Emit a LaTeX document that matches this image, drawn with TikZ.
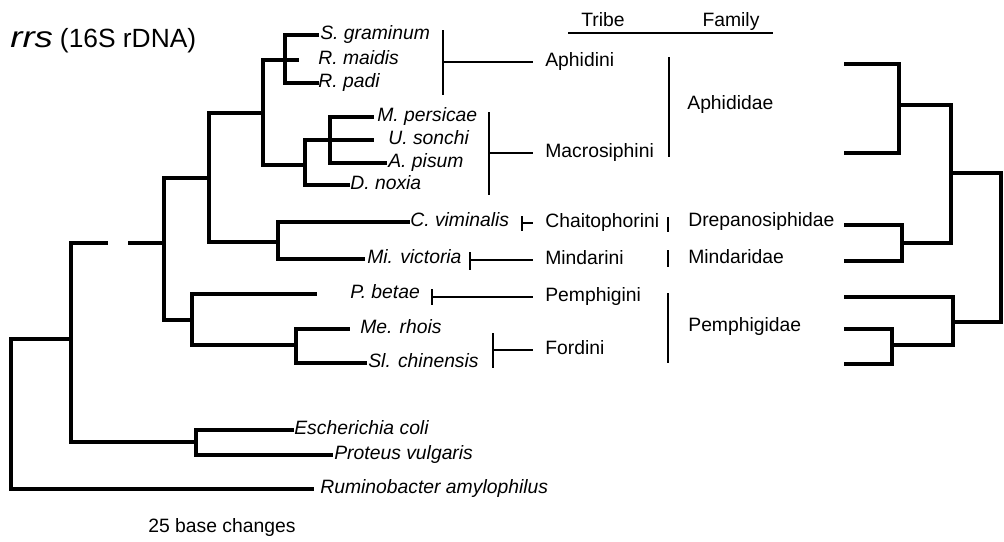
\documentclass[tikz,border=0pt]{standalone}
\usepackage{fontspec}
\setmainfont{Liberation Sans}
\usetikzlibrary{positioning}

\begin{document}
\begin{tikzpicture}[
    x=0.02cm, y=-0.02cm,
    tree/.style={line width=2.1pt, line cap=rect},
    bar/.style={line width=1.2pt},
    taxon/.style={anchor=mid west, inner sep=0pt, font=\fontsize{11}{13}\selectfont\itshape},
    tribe/.style={anchor=mid west, inner ysep=0pt, inner xsep=0.24cm, font=\fontsize{11}{13}\selectfont},
    family/.style={anchor=mid west, inner sep=0pt, font=\fontsize{11}{13}\selectfont}
  ]
    \useasboundingbox (0,0) rectangle (1004,541);

    \node[anchor=base west, inner sep=0pt] (title) at (10,47)
      {{\fontsize{16}{16}\selectfont\itshape\scalebox{1.3}[1.05]{rrs}}\hspace{4pt}\fontsize{15}{15}\selectfont (16S rDNA)};

    % taxa
    \node[taxon] (sgram) at (320,35)  {S. graminum};
    \node[taxon] (rmaid) at (318,60)  {R. maidis};
    \node[taxon] (rpadi) at (318,83)  {R. padi};
    \node[taxon] (mpers) at (377,117) {M. persicae};
    \node[taxon] (usonc) at (388,140) {U. sonchi};
    \node[taxon] (apisu) at (388,163) {A. pisum};
    \node[taxon] (dnoxi) at (350,185) {D. noxia};
    \node[taxon] (cvimi) at (410,222) {C. viminalis};
    \node[taxon] (mvict) at (367,259) {Mi. victoria};
    \node[taxon] (pbeta) at (350,294) {P. betae};
    \node[taxon] (mrhoi) at (360,329) {Me. rhois};
    \node[taxon] (schin) at (368,363) {Sl. chinensis};
    \node[taxon] (ecoli) at (294,430) {Escherichia coli};
    \node[taxon] (pvulg) at (334,455) {Proteus vulgaris};
    \node[taxon] (ramyl) at (320,489) {Ruminobacter amylophilus};

    \node[family, anchor=mid west] (scale) at (148,528) {25 base changes};

    % branch tips
    \coordinate (t-sgram) at (317,35);
    \coordinate (t-rmaid) at (297,60);
    \coordinate (t-rpadi) at (317,83);
    \coordinate (t-mpers) at (372,117);
    \coordinate (t-usonc) at (372,140);
    \coordinate (t-apisu) at (385,163);
    \coordinate (t-dnoxi) at (348,185);
    \coordinate (t-cvimi) at (408,222);
    \coordinate (t-mvict) at (363,259);
    \coordinate (t-pbeta) at (315,294);
    \coordinate (t-mrhoi) at (348,329);
    \coordinate (t-schin) at (365,363);
    \coordinate (t-ecoli) at (292,430);
    \coordinate (t-pvulg) at (331,455);
    \coordinate (t-ramyl) at (312,489);

    % inner nodes
    \coordinate (n-rhop)   at (285,60);
    \coordinate (n-macro)  at (330,140);
    \coordinate (n-macro2) at (305,165);
    \coordinate (n-aphid)  at (263,113);
    \coordinate (n-drep)   at (278,242);
    \coordinate (n-upper)  at (209,178);
    \coordinate (n-ford)   at (296,345);
    \coordinate (n-pemph)  at (192,320);
    \coordinate (n-aphids) at (164,243);
    \coordinate (n-bact)   at (196,442);
    \coordinate (n-ingrp)  at (71,339);
    \coordinate (n-root)   at (11,414);
    \coordinate (g-left)   at (106,243);
    \coordinate (g-right)  at (130,243);

    \draw[tree] (n-rhop) |- (t-sgram);
    \draw[tree] (n-rhop) -- (t-rmaid);
    \draw[tree] (n-rhop) |- (t-rpadi);
    \draw[tree] (n-macro) |- (t-mpers);
    \draw[tree] (n-macro) -- (t-usonc);
    \draw[tree] (n-macro) |- (t-apisu);
    \draw[tree] (n-macro2) |- (n-macro);
    \draw[tree] (n-macro2) |- (t-dnoxi);
    \draw[tree] (n-aphid) |- (n-rhop);
    \draw[tree] (n-aphid) |- (n-macro2);
    \draw[tree] (n-drep) |- (t-cvimi);
    \draw[tree] (n-drep) |- (t-mvict);
    \draw[tree] (n-upper) |- (n-aphid);
    \draw[tree] (n-upper) |- (n-drep);
    \draw[tree] (n-ford) |- (t-mrhoi);
    \draw[tree] (n-ford) |- (t-schin);
    \draw[tree] (n-pemph) |- (t-pbeta);
    \draw[tree] (n-pemph) |- (n-ford);
    \draw[tree] (n-aphids) |- (n-upper);
    \draw[tree] (n-aphids) |- (n-pemph);
    \draw[tree] (g-right) -- (n-aphids);
    \draw[tree] (n-bact) |- (t-ecoli);
    \draw[tree] (n-bact) |- (t-pvulg);
    \draw[tree] (n-ingrp) |- (g-left);
    \draw[tree] (n-ingrp) |- (n-bact);
    \draw[tree] (n-root) |- (n-ingrp);
    \draw[tree] (n-root) |- (t-ramyl);

    % header
    \node[family, anchor=base] (h-tribe)  at (603,27) {Tribe};
    \node[family, anchor=base] (h-family) at (731,27) {Family};
    \coordinate (h-l) at (568,33);
    \coordinate (h-r) at (773,33);
    \draw[bar] (h-l) -- (h-r);

    % tribes
    \node[tribe] (aphidini) at (533,62)  {Aphidini};
    \node[tribe] (macro)    at (533,153) {Macrosiphini};
    \node[tribe] (chaito)   at (533,223) {Chaitophorini};
    \node[tribe] (mindar)   at (533,260) {Mindarini};
    \node[tribe] (pemphi)   at (533,297) {Pemphigini};
    \node[tribe] (fordini)  at (533,350) {Fordini};

    \coordinate (b-aph-t) at (443,30);  \coordinate (b-aph-b) at (443,95);  \coordinate (b-aph) at (443,62);
    \coordinate (b-mac-t) at (489,112); \coordinate (b-mac-b) at (489,195); \coordinate (b-mac) at (489,153);
    \coordinate (b-cha-t) at (522,216); \coordinate (b-cha-b) at (522,231); \coordinate (b-cha) at (522,223);
    \coordinate (b-min-t) at (470,252); \coordinate (b-min-b) at (470,270); \coordinate (b-min) at (470,260);
    \coordinate (b-pem-t) at (432,289); \coordinate (b-pem-b) at (432,305); \coordinate (b-pem) at (432,297);
    \coordinate (b-for-t) at (493,333); \coordinate (b-for-b) at (493,368); \coordinate (b-for) at (493,350);

    \draw[bar] (b-aph-t) -- (b-aph-b);
    \draw[bar] (b-mac-t) -- (b-mac-b);
    \draw[bar] (b-cha-t) -- (b-cha-b);
    \draw[bar] (b-min-t) -- (b-min-b);
    \draw[bar] (b-pem-t) -- (b-pem-b);
    \draw[bar] (b-for-t) -- (b-for-b);
    \draw[bar] (b-aph) -- (b-aph -| aphidini.west);
    \draw[bar] (b-mac) -- (b-mac -| macro.west);
    \draw[bar] (b-cha) -- (b-cha -| chaito.west);
    \draw[bar] (b-min) -- (b-min -| mindar.west);
    \draw[bar] (b-pem) -- (b-pem -| pemphi.west);
    \draw[bar] (b-for) -- (b-for -| fordini.west);

    % families
    \node[family] (aphididae) at (687,105) {Aphididae};
    \node[family] (drepano)   at (688,222) {Drepanosiphidae};
    \node[family] (mindarid)  at (688,259) {Mindaridae};
    \node[family] (pemphigid) at (688,327) {Pemphigidae};

    \coordinate (f-aph-t) at (669,57);  \coordinate (f-aph-b) at (669,157);
    \coordinate (f-dre-t) at (668,217); \coordinate (f-dre-b) at (668,232);
    \coordinate (f-min-t) at (668,250); \coordinate (f-min-b) at (668,267);
    \coordinate (f-pem-t) at (668,293); \coordinate (f-pem-b) at (668,363);
    \draw[bar] (f-aph-t) -- (f-aph-b);
    \draw[bar] (f-dre-t) -- (f-dre-b);
    \draw[bar] (f-min-t) -- (f-min-b);
    \draw[bar] (f-pem-t) -- (f-pem-b);

    % family tree
    \coordinate (l-aph1) at (846,64);
    \coordinate (l-aph2) at (846,153);
    \coordinate (l-dre)  at (846,225);
    \coordinate (l-min)  at (846,261);
    \coordinate (l-pem1) at (846,297);
    \coordinate (l-pem2) at (846,329);
    \coordinate (l-pem3) at (846,364);
    \coordinate (k-aph)  at (899,105);
    \coordinate (k-dm)   at (902,243);
    \coordinate (k-top)  at (951,173);
    \coordinate (k-pf)   at (892,345);
    \coordinate (k-pem)  at (953,322);
    \coordinate (k-root) at (1001,248);

    \draw[tree] (k-aph) |- (l-aph1);
    \draw[tree] (k-aph) |- (l-aph2);
    \draw[tree] (k-dm) |- (l-dre);
    \draw[tree] (k-dm) |- (l-min);
    \draw[tree] (k-top) |- (k-aph);
    \draw[tree] (k-top) |- (k-dm);
    \draw[tree] (k-pf) |- (l-pem2);
    \draw[tree] (k-pf) |- (l-pem3);
    \draw[tree] (k-pem) |- (l-pem1);
    \draw[tree] (k-pem) |- (k-pf);
    \draw[tree] (k-root) |- (k-top);
    \draw[tree] (k-root) |- (k-pem);
  \end{tikzpicture}
\end{document}
